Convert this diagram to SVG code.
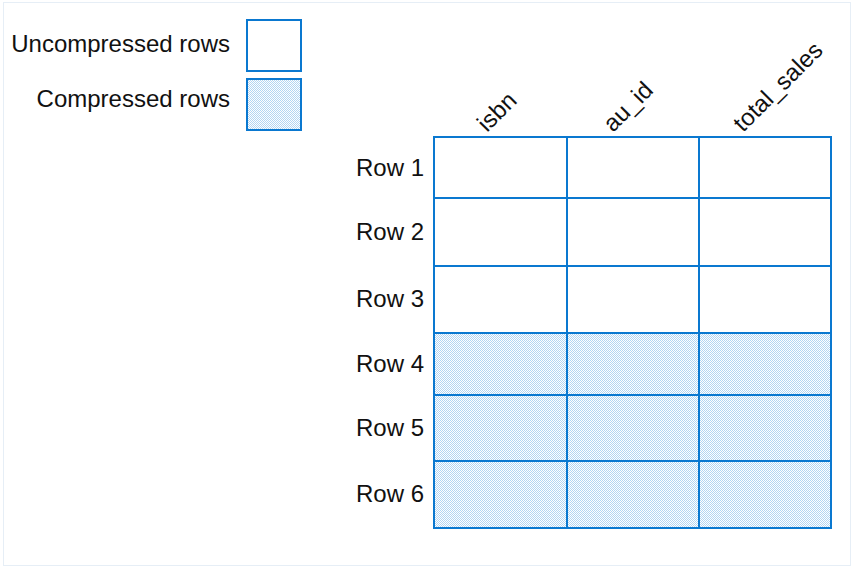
<svg xmlns="http://www.w3.org/2000/svg" width="854" height="568" viewBox="0 0 854 568">
<style>
.lbl{font-family:"Liberation Sans",Arial,sans-serif;font-size:24px;fill:#111;}
.r{text-anchor:end;}
.cell{stroke:#0a78d0;stroke-width:2;}
.plain{fill:#fff;}
.comp{fill:url(#dots);}
</style>
<defs>
<pattern id="dots" width="2" height="2" patternUnits="userSpaceOnUse">
<rect width="2" height="2" fill="#ffffff"/>
<rect x="0" y="0" width="1" height="1" fill="#b3d5f2"/>
<rect x="1" y="1" width="1" height="1" fill="#b3d5f2"/>
</pattern>
</defs>
<rect x="0" y="0" width="854" height="568" fill="#fff"/>
<rect x="3.5" y="2.5" width="847" height="563" fill="none" stroke="#e6eef6" stroke-width="1"/>
<g id="legend">
<g id="legend-uncompressed">
<text class="lbl r" x="230" y="52">Uncompressed rows</text>
<rect class="cell plain" x="247" y="20" width="54" height="51"/>
</g>
<g id="legend-compressed">
<text class="lbl r" x="230" y="107">Compressed rows</text>
<rect class="cell comp" x="247" y="79" width="54" height="51"/>
</g>
</g>
<g id="headers">
<text class="lbl" transform="translate(487,133) rotate(-45)">isbn</text>
<text class="lbl" transform="translate(613,133) rotate(-45)">au_id</text>
<text class="lbl" transform="translate(743,133) rotate(-45)">total_sales</text>
</g>
<g id="row-labels">
<text class="lbl r" x="424" y="176">Row 1</text>
<text class="lbl r" x="424" y="240">Row 2</text>
<text class="lbl r" x="424" y="307">Row 3</text>
<text class="lbl r" x="424" y="372">Row 4</text>
<text class="lbl r" x="424" y="436">Row 5</text>
<text class="lbl r" x="424" y="502">Row 6</text>
</g>
<g id="table">
<rect class="plain" x="434" y="137" width="397" height="196"/>
<rect class="comp" x="434" y="333" width="397" height="195"/>
</g>
<g id="connectors" class="cell" fill="none">
<rect x="434" y="137" width="397" height="391"/>
<line x1="567" y1="137" x2="567" y2="528"/>
<line x1="699" y1="137" x2="699" y2="528"/>
<line x1="434" y1="198" x2="831" y2="198"/>
<line x1="434" y1="266" x2="831" y2="266"/>
<line x1="434" y1="333" x2="831" y2="333"/>
<line x1="434" y1="395" x2="831" y2="395"/>
<line x1="434" y1="461" x2="831" y2="461"/>
</g>
</svg>
